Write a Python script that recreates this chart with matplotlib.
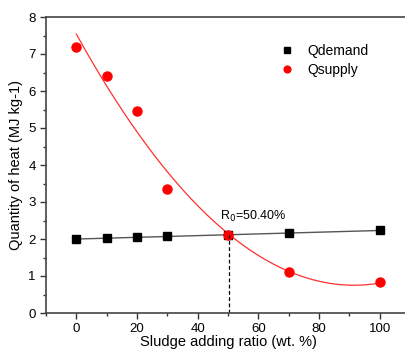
import numpy as np
import matplotlib
matplotlib.use('Agg')
import matplotlib.pyplot as plt
from matplotlib.ticker import MultipleLocator

plt.rcParams['font.family'] = ['Liberation Sans', 'DejaVu Sans']

# Data
ratio = [0, 10, 20, 30, 50, 70, 100]
q_demand = [2.0, 2.02, 2.05, 2.07, 2.1, 2.17, 2.23]
q_supply = [7.2, 6.4, 5.47, 3.35, 2.1, 1.1, 0.85]
r0 = 50.40
r0_q = 2.11

# Fitted curves
xs = np.linspace(0, 100, 200)
fit_d = np.polyfit(ratio, q_demand, 1)
fit_s = np.polyfit(ratio, q_supply, 2)

fig = plt.figure(figsize=(4.06, 3.51), dpi=100)
ax = fig.add_axes([46/406, 38/351, 364/406, 296/351])

ax.plot(xs, np.polyval(fit_d, xs), color='#555555', lw=1.0)
ax.plot(xs, np.polyval(fit_s, xs), color='#ff3030', lw=0.9)
ax.plot(ratio, q_demand, 's', color='black', ms=5.5, label='Qdemand', linestyle='none')
ax.plot(ratio, q_supply, 'o', color='#ff0000', ms=6.5, label='Qsupply', linestyle='none')

ax.plot([r0, r0], [0, r0_q], color='black', ls=(0, (3, 2)), lw=0.9)
ax.text(r0 - 3, r0_q + 0.4, r'R$_0$=50.40%', fontsize=9)

ax.set_xlim(-10, 110)
ax.set_ylim(0, 8)
ax.xaxis.set_major_locator(MultipleLocator(20))
ax.xaxis.set_minor_locator(MultipleLocator(10))
ax.yaxis.set_major_locator(MultipleLocator(1))
ax.yaxis.set_minor_locator(MultipleLocator(0.5))
ax.tick_params(which='both', direction='out', labelsize=9.5, color='#333333', width=1.0)
ax.tick_params(which='major', length=4)
ax.tick_params(which='minor', length=2.5)
for s in ax.spines.values():
    s.set_color('#444444')
    s.set_linewidth(1.2)

ax.set_xlabel('Sludge adding ratio (wt. %)', fontsize=10.5, labelpad=0)
ax.set_ylabel('Quantity of heat (MJ kg-1)', fontsize=10.5, labelpad=4)

ax.legend(loc='upper left', bbox_to_anchor=(0.61, 0.95), frameon=False,
          fontsize=10, handletextpad=0.9, labelspacing=0.35, handlelength=1.0,
          markerscale=0.75)

fig.savefig('out.png', dpi=100)
